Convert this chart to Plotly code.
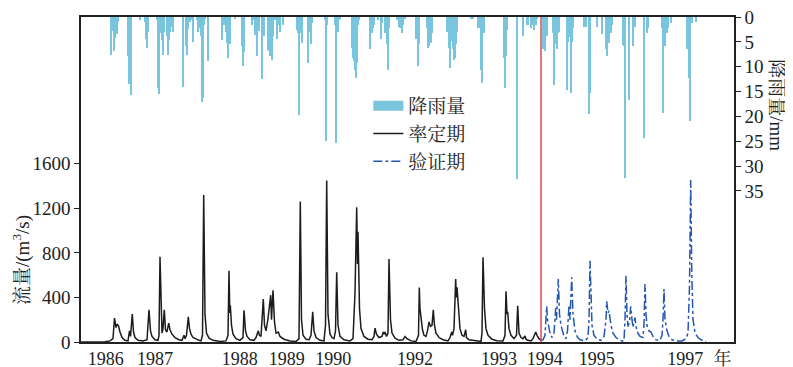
import plotly.graph_objects as go

# ---------------- data (time index t, one unit ~ one plotted day-step) ----------------
cal_t = [81, 105, 110, 113,
         114.5, 116, 117, 118.5, 120, 122, 125, 128,
         129.5, 130.5, 132.3, 133.5, 135, 138, 143, 147,
         149, 150.5, 152, 155, 158, 159,
         160, 161, 162, 163, 164.3, 165.5, 167, 168.7, 170, 172, 175, 179, 182,
         184, 185, 186.5, 188.3, 189.5, 191, 193, 196, 199, 201, 202.5,
         203.7, 205, 206.5, 209, 213, 220, 226, 228,
         229, 229.8, 230.3, 231.5, 233, 236, 240, 243,
         244, 245.5, 247, 250, 254, 256,
         258.3, 259.5, 261, 263.3, 264.5, 266, 268, 270.7, 271.5, 273, 274.5, 276, 278.3, 280, 284, 290, 296, 299,
         300.3, 301.5, 303, 306, 309, 311, 312.7, 314, 316, 320, 324, 325.5,
         326.7, 328, 330, 332, 334, 335.5, 336.7, 338, 340, 344, 350, 353, 355,
         356.7, 357.5, 358, 359.5, 361, 364, 368, 372, 374,
         375, 376.5, 379, 382, 383.3, 384.3, 385, 386.5, 388,
         389, 390.5, 392, 395, 399, 403, 405, 407, 411, 416, 418.5,
         419.3, 420, 421, 422.5, 424, 426, 427.5, 429, 430.5, 432, 433.3, 434.5, 436, 439, 443, 448, 450, 451.7, 452.5, 454,
         455.7, 456.3, 457, 458.5, 460, 462, 464, 465.7, 466.5, 469, 475, 481, 482,
         483, 484.5, 486, 488, 492, 497, 503, 505,
         506, 507, 507.7, 509, 511, 514, 516.5, 517.7, 519, 521, 523, 525, 526, 528, 531, 533, 535.7, 537, 539, 541]
cal_q = [0, 2, 10, 30,
         215, 130, 160, 145, 90, 40, 15, 10,
         100, 50, 250, 90, 40, 15, 10, 20,
         290, 100, 50, 20, 15, 60,
         765, 300, 80, 120, 290, 110, 90, 170, 110, 70, 40, 20, 15,
         60, 30, 60, 225, 120, 70, 40, 25, 15, 10, 60,
         1320, 250, 80, 35, 15, 5, 10, 60,
         640, 260, 330, 150, 70, 30, 15, 40,
         285, 100, 50, 20, 15, 40,
         100, 60, 50, 385, 150, 100, 210, 420, 200, 465, 180, 80, 90, 50, 25, 10, 5, 30,
         1260, 200, 60, 25, 20, 60, 270, 100, 40, 15, 10, 150,
         1450, 250, 70, 40, 30, 100, 625, 150, 50, 20, 10, 30, 440,
         1210, 700, 990, 300, 120, 50, 25, 20, 50,
         125, 70, 40, 50, 90, 70, 90, 50, 80,
         745, 200, 80, 35, 15, 20, 50, 30, 10, 5, 60,
         490, 300, 200, 110, 60, 50, 100, 180, 140, 150, 290, 150, 80, 40, 20, 10, 40, 90, 60, 120,
         565, 400, 490, 250, 120, 60, 50, 110, 40, 20, 10, 5, 80,
         760, 300, 120, 60, 25, 12, 10, 60,
         455, 250, 270, 120, 60, 30, 60, 325, 80, 40, 30, 55, 25, 15, 10, 30, 90, 60, 30, 15]

val_t = [541, 543, 545, 546.7, 547.5, 548.5, 550, 552, 554, 555.7,
         556.5, 558.3, 559.5, 561, 562, 564, 566, 567.5, 569, 570,
         571.7, 573, 575, 577, 580, 585, 588, 589, 590, 591,
         592, 594, 597, 601, 604, 606, 606.7, 608, 609, 611,
         613, 616, 619, 622, 624, 625, 626, 627, 628, 629.5,
         630.7, 632, 633, 634, 635, 636, 638, 640, 643, 644,
         645, 646, 647, 649, 651, 653, 656, 660, 662, 663,
         664, 665, 667, 669, 672, 677, 682, 686, 688, 689.5,
         690.7, 691.8, 693, 695, 698, 701, 704, 706]
val_q = [15, 20, 60, 320, 200, 150, 80, 40, 80, 305,
         200, 565, 250, 150, 120, 50, 30, 100, 330, 200,
         580, 250, 100, 50, 20, 10, 40, 200, 730, 300,
         150, 60, 25, 15, 50, 200, 365, 260, 280, 150,
         80, 40, 20, 10, 10, 200, 595, 250, 140, 180,
         320, 200, 130, 180, 220, 140, 80, 50, 40, 160,
         520, 250, 150, 100, 90, 50, 20, 15, 60, 200,
         475, 200, 100, 50, 20, 10, 10, 30, 80, 500,
         1455, 600, 200, 80, 40, 20, 10, 5]

rain_t = [111, 112.7, 113.5, 114, 115, 116, 116.7, 117.5, 118.3,
          128.3, 129.3, 131, 140, 145.3, 146, 147, 148.3,
          156.7, 157.7, 158.3, 159.3, 160, 161, 162, 163, 164, 166.7, 167.7, 168.7, 170, 171, 171.7, 172.7,
          182.7, 183.3, 186, 187.3, 188.3, 190, 191.7, 193.3, 196.7, 198.3, 199.3, 201, 202, 203, 204, 205.3, 208.3,
          221.7, 222.7, 224, 226, 227, 228, 229, 230, 235, 241.7, 242.7, 243.7,
          251.7, 253.3, 255, 256.7, 257.3, 259.3, 261.7, 262.3, 263.3, 264.3, 267.7, 268.3, 269.3, 270.3, 271.7, 272.7,
          275, 277, 278.3, 280, 283.3, 296.7, 297.7, 299.3, 300.7, 301.7, 307.7, 308.3, 309.3, 311, 312.3,
          325, 325.7, 326.3, 327, 335, 335.7, 336.3, 337.7, 339, 340.3,
          352.3, 353.3, 354.3, 355.3, 356.3, 357.3, 358.3, 359.3, 370.3, 371.7, 373.3, 374.3, 378.3,
          381, 382.3, 385, 386, 387.3, 388.3, 389.3, 396.7, 399, 400.3, 401.7, 402.7, 405,
          416, 417, 418, 419, 426.7, 427.7, 429, 430, 431.3, 432.3,
          446.7, 448.3, 449.3, 450.3, 451.3, 453.3, 454.3, 455.3, 456.3, 457.3, 471, 473,
          478.3, 480, 481, 482.3, 483.7, 504.3, 505.3, 506.3, 507.3, 517.3,
          523.3, 526.7, 528.3, 530.7, 532, 534, 535.7, 537.3,
          543.3, 544.3, 545.3, 546.7, 553.3, 554.3, 555.3, 556.7, 557.7, 559.3,
          567.3, 568.3, 569.5, 570.7, 571.7, 573.3, 584.3, 586, 588.7, 590, 596.7, 601.7,
          605.7, 607.3, 609.3, 610.7, 612, 622.7, 624, 625, 629.3, 633.3, 635,
          644.3, 646.7, 648.3, 661.7, 663.3, 665, 666.7, 668.3, 670.7, 687.3, 688.7, 690, 692, 696]
rain_mm = [7.6, 2.7, 2.7, 6.9, 4.3, 2.5, 3.5, 1.0, 1.0,
           7.9, 13.4, 15.6, 0.5, 1.0, 4.5, 6.2, 2.9,
           0.5, 3.3, 14.3, 15.4, 3.3, 2.0, 4.7, 7.6, 2.9, 3.9, 7.6, 4.7, 2.9, 2.0, 1.5, 2.9,
           1.0, 14.1, 5.9, 7.6, 2.3, 1.0, 0.6, 5.1, 0.6, 2.9, 2.2, 3.9, 17.0, 16.2, 1.5, 0.3, 8.8,
           4.7, 1.2, 1.5, 2.9, 5.3, 8.2, 3.3, 5.5, 0.3, 5.9, 9.9, 7.0,
           1.5, 0.6, 3.7, 1.5, 7.9, 2.8, 1.5, 12.5, 3.3, 3.9, 1.5, 6.6, 6.9, 7.9, 8.6, 3.9,
           0.6, 4.5, 1.5, 3.0, 1.5, 2.6, 3.3, 19.7, 3.1, 5.2, 6.9, 9.2, 2.9, 5.4, 1.2,
           0.6, 15.0, 24.9, 1.5, 1.5, 10.6, 25.4, 2.9, 0.6, 0.3,
           6.2, 8.2, 8.9, 10.6, 12.3, 9.2, 1.5, 0.6, 6.4, 3.3, 2.2, 1.5, 0.6,
           4.5, 1.2, 3.1, 1.5, 5.5, 10.6, 2.2, 0.6, 2.0, 2.2, 3.1, 1.5, 0.3,
           4.5, 4.5, 9.9, 5.5, 2.2, 6.2, 5.9, 3.3, 5.2, 3.3,
           2.9, 2.2, 6.2, 10.2, 4.8, 6.5, 8.6, 8.3, 5.5, 2.9, 0.2, 0.2,
           2.2, 2.2, 10.6, 13.3, 3.3, 8.2, 14.3, 7.9, 2.6, 32.6,
           3.9, 1.5, 1.5, 2.2, 1.5, 2.6, 1.5, 0.3,
           6.5, 5.5, 6.9, 3.9, 3.3, 13.6, 5.5, 6.5, 3.3, 2.9,
           14.6, 5.0, 4.0, 15.2, 5.0, 2.1, 2.0, 2.0, 19.6, 15.3, 1.9, 3.5,
           6.5, 7.9, 5.2, 3.3, 1.6, 5.7, 5.9, 32.4, 16.6, 5.9, 1.9,
           24.4, 3.2, 2.2, 2.1, 19.3, 5.8, 3.2, 2.2, 1.1, 6.5, 12.3, 21.0, 1.1, 1.0]

year_pos = [105.7, 155, 239.7, 286.7, 333.3, 415, 499, 544.7, 596.7, 685.3, 722.5]
year_lbl = ["1986", "1987", "1988", "1989", "1990", "1992", "1993", "1994", "1995", "1997", "年"]
split_t = 541
q_ticks = [0, 400, 800, 1200, 1600]
p_ticks = [0, 5, 10, 15, 20, 25, 30, 35]

# ---------------- figure ----------------
# The page body adds an 8 px offset, so the left/top margins are 8 px narrower
# to keep the plot area where the reference has it.
FONT = "Liberation Serif, Times New Roman, Noto Serif CJK SC, Noto Sans CJK SC, serif"
RAIN_C = "#79c5dd"

fig = go.Figure()
fig.add_trace(go.Bar(x=rain_t, y=rain_mm, yaxis="y2", width=1.0,
                     marker=dict(color=RAIN_C, line=dict(width=0)),
                     name="降雨量", showlegend=False))
fig.add_trace(go.Scatter(x=[None], y=[None], mode="lines", name="降雨量",
                         line=dict(color=RAIN_C, width=10)))
fig.add_trace(go.Scatter(x=cal_t, y=cal_q, mode="lines", name="率定期",
                         line=dict(color="#1c1c1c", width=1.5)))
fig.add_trace(go.Scatter(x=val_t, y=val_q, mode="lines", name="验证期",
                         line=dict(color="#2556b0", width=1.5, dash="dashdot")))

fig.add_shape(type="line", xref="x", yref="paper", x0=split_t, x1=split_t, y0=0, y1=1,
              line=dict(color="#e5474a", width=1.5))

fig.update_layout(
    width=785, height=367,
    margin=dict(l=73, r=59, t=9, b=33, autoexpand=False),
    paper_bgcolor="white", plot_bgcolor="white",
    font=dict(family=FONT, size=18, color="#222"),
    bargap=0,
    showlegend=True,
    legend=dict(x=0.44, y=0.785, xanchor="left", yanchor="top",
                bgcolor="rgba(0,0,0,0)", font=dict(size=19, family=FONT),
                tracegroupgap=0, itemwidth=30),
    xaxis=dict(range=[81, 734], showgrid=False, zeroline=False, automargin=False,
               showline=True, linecolor="#222", linewidth=1.5, mirror=True,
               tickmode="array", tickvals=year_pos, ticktext=year_lbl,
               ticks="", tickfont=dict(size=18), ticklabeloverflow="allow"),
    yaxis=dict(range=[0, 2917], showgrid=False, zeroline=False, automargin=False,
               showline=True, linecolor="#222", linewidth=1.5,
               tickmode="array", tickvals=q_ticks, ticks="outside",
               ticklen=5, tickcolor="#222", tickfont=dict(size=19),
               ticklabeloverflow="allow"),
    yaxis2=dict(range=[65.4, -0.02], overlaying="y", side="right", showgrid=False,
                zeroline=False, showline=True, linecolor="#222", linewidth=1.5,
                automargin=False, ticklabeloverflow="allow",
                tickmode="array", tickvals=p_ticks, ticks="outside",
                ticklen=5, tickcolor="#222", tickfont=dict(size=19)),
    annotations=[
        dict(text="流量/(m<sup>3</sup>/s)", xref="paper", yref="paper",
             x=-0.09, y=0.253, textangle=-90, showarrow=False,
             xanchor="center", yanchor="middle", font=dict(size=19, family=FONT)),
        dict(text="降雨量/mm", xref="paper", yref="paper",
             x=1.065, y=0.727, textangle=90, showarrow=False,
             xanchor="center", yanchor="middle", font=dict(size=19, family=FONT)),
    ],
)

fig.write_html("out.html")
